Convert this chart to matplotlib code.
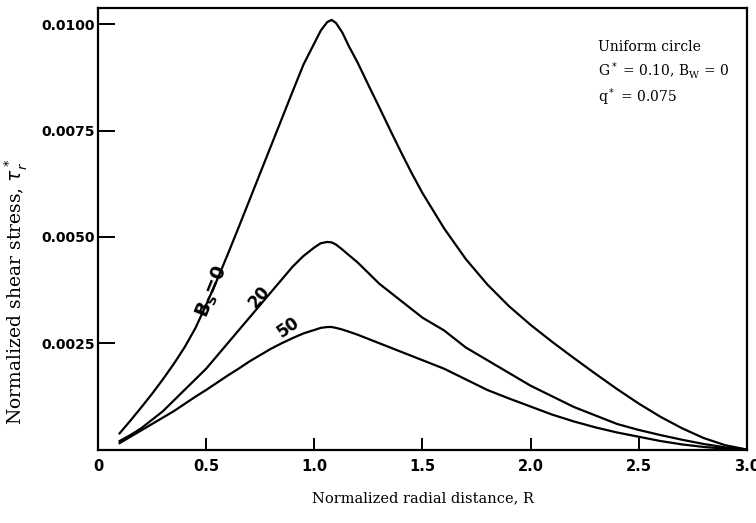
import numpy as np
import matplotlib
matplotlib.use("Agg")
import matplotlib.pyplot as plt

# Normalized radial distance R
r = [0.10, 0.15, 0.20, 0.25, 0.30, 0.35, 0.40, 0.45, 0.50, 0.55, 0.60, 0.65,
     0.70, 0.75, 0.80, 0.85, 0.90, 0.95, 1.00, 1.03, 1.06, 1.08, 1.10, 1.13,
     1.16, 1.20, 1.25, 1.30, 1.35, 1.40, 1.45, 1.50, 1.60, 1.70, 1.80, 1.90,
     2.00, 2.10, 2.20, 2.30, 2.40, 2.50, 2.60, 2.70, 2.80, 2.90, 3.00]

# normalized shear stress for Bs = 0, 20, 50
tau_bs0 = [0.00038, 0.00068, 0.00099, 0.00131, 0.00165, 0.00201, 0.0024,
           0.00285, 0.0034, 0.00398, 0.00459, 0.00522, 0.00586, 0.0065,
           0.00714, 0.00778, 0.00842, 0.00905, 0.00955, 0.00985, 0.01005,
           0.0101, 0.01003, 0.0098, 0.00948, 0.0091, 0.00857, 0.00805,
           0.00752, 0.0070, 0.0065, 0.00603, 0.0052, 0.00448, 0.00388,
           0.00337, 0.00293, 0.00253, 0.00215, 0.00178, 0.00142, 0.00108,
           0.00077, 0.0005, 0.00027, 0.0001, 0.0]
tau_bs20 = [0.0002, 0.00034, 0.0005, 0.0007, 0.0009, 0.00115, 0.0014, 0.00165,
            0.0019, 0.0022, 0.0025, 0.0028, 0.0031, 0.0034, 0.0037, 0.0040,
            0.0043, 0.00455, 0.00475, 0.00485, 0.00488, 0.00487, 0.00482,
            0.0047, 0.00457, 0.0044, 0.00415, 0.0039, 0.0037, 0.0035, 0.0033,
            0.0031, 0.0028, 0.0024, 0.0021, 0.0018, 0.0015, 0.00125, 0.0010,
            0.0008, 0.0006, 0.00046, 0.00034, 0.00023, 0.00013, 0.00005, 0.0]
tau_bs50 = [0.00015, 0.0003, 0.00045, 0.0006, 0.00075, 0.0009, 0.00107,
            0.00124, 0.0014, 0.00157, 0.00174, 0.0019, 0.00207, 0.00222,
            0.00237, 0.0025, 0.00262, 0.00273, 0.00281, 0.00286, 0.00288,
            0.00288, 0.00286, 0.00282, 0.00277, 0.0027, 0.0026, 0.0025,
            0.0024, 0.0023, 0.0022, 0.0021, 0.0019, 0.00165, 0.0014, 0.0012,
            0.00101, 0.00082, 0.00066, 0.00052, 0.0004, 0.0003, 0.0002,
            0.00012, 0.00006, 0.00002, 0.0]

x_ticks = [0, 0.5, 1.0, 1.5, 2.0, 2.5, 3.0]
x_tick_labels = ["0", "0.5", "1.0", "1.5", "2.0", "2.5", "3.0"]
y_ticks = [0.0025, 0.0050, 0.0075, 0.0100]
y_tick_labels = ["0.0025", "0.0050", "0.0075", "0.0100"]

fig = plt.figure(figsize=(7.56, 5.23), dpi=100)
ax = fig.add_axes([0.1296, 0.1405, 0.8584, 0.8442])

for tau in (tau_bs0, tau_bs20, tau_bs50):
    ax.plot(r, tau, color="black", lw=1.6, solid_joinstyle="round")

ax.set_xlim(0, 3.0)
ax.set_ylim(0, 0.01038)

ax.set_xticks(x_ticks)
ax.set_xticklabels(x_tick_labels, fontweight="bold", fontsize=10.5)
ax.set_yticks(y_ticks)
ax.set_yticklabels(y_tick_labels, fontweight="bold", fontsize=10)
ax.tick_params(axis="x", direction="in", length=9, width=1.4, pad=7)
ax.tick_params(axis="y", direction="in", length=12, width=1.4, pad=2)
for s in ax.spines.values():
    s.set_linewidth(1.6)

ax.set_xlabel("Normalized radial distance, R", family="DejaVu Serif",
              fontsize=10.5, labelpad=12)
ax.set_ylabel(r"Normalized shear stress, $\tau^*_r$", family="DejaVu Serif",
              fontsize=13.5)
ax.yaxis.set_label_coords(-0.106, 0.358)

# curve labels
ax.text(0.527, 0.0037, r"B$_\mathregular{S}$=0", rotation=68, fontsize=13.5,
        fontweight="bold", ha="center", va="center")
ax.text(0.745, 0.00358, "20", rotation=50, fontsize=12,
        fontweight="bold", ha="center", va="center")
ax.text(0.88, 0.00287, "50", rotation=35, fontsize=12,
        fontweight="bold", ha="center", va="center")

# annotation block
ax.text(2.31, 0.00938, "Uniform circle", family="DejaVu Serif", fontsize=10)
ax.text(2.31, 0.00878, r"G$^*$ = 0.10, B$_\mathregular{W}$ = 0",
        family="DejaVu Serif", fontsize=10)
ax.text(2.31, 0.00818, r"q$^*$ = 0.075", family="DejaVu Serif", fontsize=10)

fig.savefig("out.png", dpi=100)
